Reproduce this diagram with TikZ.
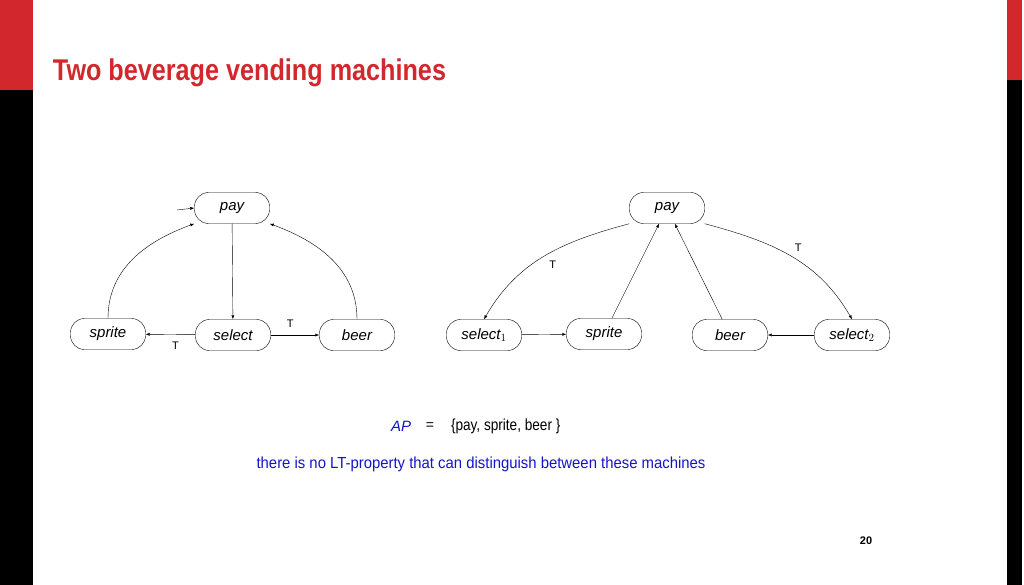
\documentclass[tikz,border=0pt]{standalone}
\usepackage{fontspec}
\setmainfont{Liberation Sans}
\usetikzlibrary{arrows.meta}
\definecolor{slidered}{RGB}{210,40,45}
\definecolor{apblue}{RGB}{20,20,200}
\tikzset{
  state/.style={draw, rounded corners=14pt, minimum width=75pt, minimum height=31pt, inner sep=1pt, font=\fontsize{15}{17}\selectfont\itshape},
  trans/.style={-{Latex[length=4pt,width=3pt]}, line width=0.4pt},
  lbl/.style={font=\fontsize{11}{12}\selectfont}
}
\begin{document}
\begin{tikzpicture}[x=1pt, y=-1pt]
    \useasboundingbox (0,0) rectangle (1024,585);
    % side bars
    \fill[slidered] (0,0) rectangle (33,90);
    \fill[black] (0,90) rectangle (33,585);
    \fill[slidered] (1007,0) rectangle (1022,80);
    \fill[black] (1007,80) rectangle (1022,585);
    \node[anchor=west, text=slidered, xscale=0.84, font=\fontsize{30}{34}\selectfont\bfseries](title) at (50,73) {Two beverage vending machines};

    % first machine
    \node[state](pay1) at (232,208) {pay};
    \node[state](sprite1) at (108,334) {sprite};
    \node[state](select1) at (233,335) {select};
    \node[state](beer1) at (357,335) {beer};
    \coordinate (init) at (177,210);

    \draw[trans] (init) -- (pay1.west);
    \draw[trans] (pay1) -- (select1);
    \draw[trans] (select1) -- node[lbl, below=4pt, pos=0.4] {T} (sprite1);
    \draw[trans] (select1) -- node[lbl, above=4pt, pos=0.4] {T} (beer1);
    \draw[trans] (sprite1.north) to[out=90, in=200] (pay1.south west);
    \draw[trans] (beer1.north) to[out=90, in=-20] (pay1.south east);

    % second machine
    \node[state](pay2) at (667,208) {pay};
    \node[state](sel2a) at (484,335) {select$_1$};
    \node[state](sprite2) at (604,334) {sprite};
    \node[state](beer2) at (730,335) {beer};
    \node[state](sel2b) at (852,335) {select$_2$};

    \draw[trans] (pay2.south west) to[out=195, in=60] node[lbl, pos=0.5, below right=1pt] {T} (sel2a.north);
    \draw[trans] (pay2.south east) to[out=-15, in=120] node[lbl, pos=0.5, above right=1pt] {T} (sel2b.north);
    \draw[trans] (sprite2) -- (pay2);
    \draw[trans] (beer2) -- (pay2);
    \draw[trans] (sel2a) -- (sprite2);
    \draw[trans] (sel2b) -- (beer2);

    % texts
    \node[text=apblue, font=\fontsize{15}{17}\selectfont\itshape](ap) at (401,426) {AP};
    \node[font=\fontsize{14}{16}\selectfont](eq) at (430,426) {=};
    \node[anchor=west, xscale=0.85, font=\fontsize{16}{18}\selectfont](apset) at (448,426) {\{pay, sprite, beer \}};
    \node[text=apblue, xscale=0.93, font=\fontsize{16}{18}\selectfont](note) at (481,464) {there is no LT-property that can distinguish between these machines};
    \node[font=\fontsize{11}{12}\selectfont\bfseries](page) at (866,541) {20};
\end{tikzpicture}
\end{document}
